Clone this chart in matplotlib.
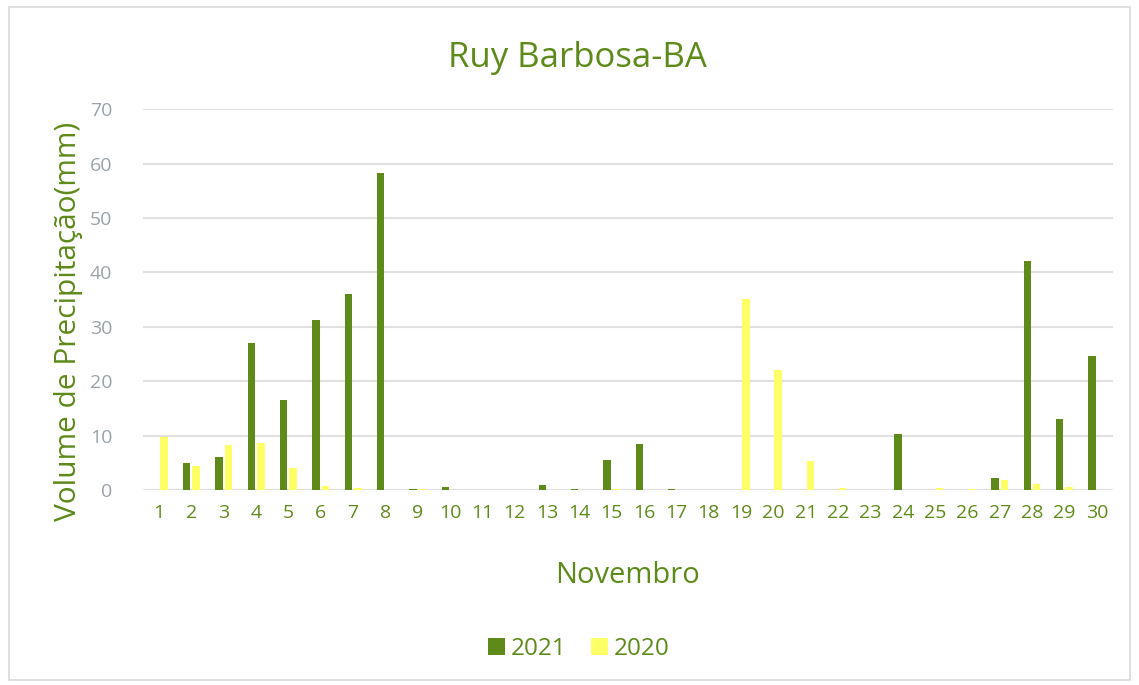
import matplotlib.pyplot as plt
import numpy as np
from matplotlib.patches import Rectangle

plt.rcParams['font.family'] = ['Open Sans', 'DejaVu Sans']

# dias de novembro
dias = list(range(1, 31))
# precipitacao 2021 (mm)
chuva_2021 = [0, 5.0, 6.1, 27.1, 16.5, 31.3, 36.1, 58.3, 0.2, 0.5,
              0, 0, 0.9, 0.1, 5.6, 8.4, 0.1, 0, 0, 0,
              0, 0, 0, 10.3, 0, 0, 2.2, 42.1, 13.0, 24.6]
# precipitacao 2020 (mm)
chuva_2020 = [9.7, 4.4, 8.3, 8.6, 4.0, 0.7, 0.3, 0, 0.2, 0,
              0, 0.05, 0, 0, 0.2, 0, 0, 0, 35.1, 22.1,
              5.4, 0.4, 0, 0, 0.3, 0.2, 1.8, 1.1, 0.6, 0]

verde = '#5E8A1A'
amarelo = '#FFFF66'
cinza = '#9BA3AA'

fig = plt.figure(figsize=(11.39, 6.85), dpi=100)
ax = fig.add_axes([0.1255, 0.2847, 0.8516, 0.556])

x = np.arange(len(dias))
w = 0.23
ax.bar(x - 0.145, chuva_2021, w, color=verde, label='2021', zorder=3)
ax.bar(x + 0.145, chuva_2020, w, color=amarelo, label='2020', zorder=3)

ax.set_xlim(-0.5, len(dias) - 0.5)
ax.set_ylim(0, 70)
ax.set_yticks(range(0, 71, 10))
ax.set_xticks(x)
ax.set_xticklabels([str(d) for d in dias])
ax.tick_params(axis='x', colors=verde, labelsize=14, length=0, pad=10)
ax.tick_params(axis='y', colors=cinza, labelsize=14, length=0, pad=22)
ax.grid(axis='y', color='#E0E0E0', linewidth=1.5, zorder=0)
for s in ax.spines.values():
    s.set_visible(False)

fig.text(0.507, 0.916, 'Ruy Barbosa-BA', color=verde, fontsize=25,
         ha='center', va='center')
ax.set_xlabel('Novembro', color=verde, fontsize=21, labelpad=28)
ax.set_ylabel('Volume de Precipitação(mm)', color=verde, fontsize=21.5, labelpad=6)
ax.yaxis.set_label_coords(-0.062, 0.444)

fig.legend(loc='center', bbox_to_anchor=(0.508, 0.052), ncol=2, frameon=False,
           fontsize=17.5, labelcolor=verde, handlelength=0.7, handleheight=0.7,
           columnspacing=1.0, handletextpad=0.25)

fig.patches.append(Rectangle((0.008, 0.008), 0.984, 0.982, transform=fig.transFigure,
                             fill=False, edgecolor='#D9D9D9', linewidth=1.2))

fig.savefig('out.png', dpi=100)
